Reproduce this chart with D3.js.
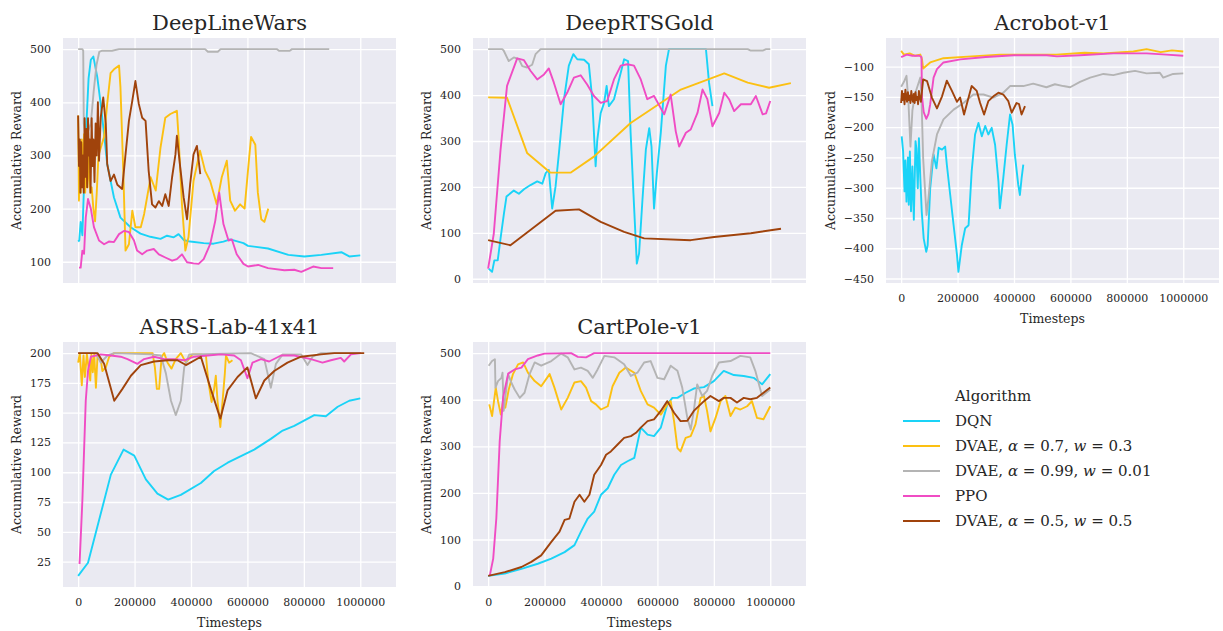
<!DOCTYPE html>
<html>
<head>
<meta charset="utf-8">
<script src="https://cdn.jsdelivr.net/npm/d3@7"></script>
<style>
  body { margin: 0; background: #fff; }
  svg { display: block; }
  text { font-family: 'DejaVu Serif', serif; fill: #262626; }
</style>
</head>
<body>
<svg></svg>
<script>
'use strict'

// series order: DQN, DVAE a=0.7, DVAE a=0.99, PPO, DVAE a=0.5
const algorithms = ['DQN', 'DVAE, α = 0.7, w = 0.3', 'DVAE, α = 0.99, w = 0.01', 'PPO', 'DVAE, α = 0.5, w = 0.5']
const colors = ['#1ad3f7', '#fcc012', '#b4b4b4', '#f04cc4', '#a0430c']

const xTicks = [0, 200000, 400000, 600000, 800000, 1000000]

// timesteps are in thousands
const dlwDqn = [[0,138],[4,140],[9,175],[15,150],[20,230],[27,334],[37,445],[45,480],[54,486],[68,447],[80,397],[92,340],[103,284],[127,221],[150,183],[186,165],[221,153],[256,147],[292,143],[315,149],[339,146],[356,152],[374,141],[397,138],[445,135],[480,134],[515,138],[539,142],[586,135],[602,130],[673,125],[745,113],[802,110],[862,113],[933,118],[961,110],[1000,112]]
const dlwDvae07 = [[0,375],[3,215],[6,300],[9,230],[13,330],[17,240],[21,340],[25,230],[29,310],[33,240],[38,300],[43,230],[48,240],[54,200],[60,176],[66,230],[72,300],[92,335],[103,397],[115,455],[127,462],[145,469],[150,428],[160,271],[168,121],[180,133],[192,196],[203,165],[222,165],[234,190],[257,259],[275,234],[292,315],[309,371],[327,378],[350,384],[356,334],[368,208],[380,121],[391,146],[409,252],[432,309],[450,271],[468,252],[491,208],[509,259],[527,290],[539,215],[556,196],[574,208],[590,200],[600,260],[613,335],[628,320],[637,230],[649,180],[660,175],[674,200]]
const dlwDvae099 = [[0,500],[15,500],[18,497],[20,360],[25,340],[35,345],[45,360],[55,420],[65,470],[75,495],[85,497],[120,497],[145,500],[450,500],[460,495],[495,495],[505,500],[705,500],[712,497],[750,497],[758,500],[890,500]]
const dlwPpo = [[3,89],[9,89],[15,121],[21,115],[27,183],[35,218],[45,200],[56,165],[74,140],[92,133],[109,138],[127,137],[145,152],[162,158],[180,156],[198,140],[209,121],[227,114],[245,121],[268,124],[286,114],[309,108],[333,102],[350,105],[368,114],[386,99],[409,97],[427,96],[445,105],[468,133],[486,177],[500,230],[515,171],[533,140],[545,142],[562,114],[586,96],[602,91],[638,94],[673,88],[731,84],[766,85],[791,81],[833,91],[862,88],[904,88]]
const dlwDvae05 = [[0,375],[3,280],[6,330],[8,230],[11,325],[14,240],[17,300],[20,230],[23,370],[26,260],[29,350],[32,240],[35,370],[38,300],[41,330],[44,230],[48,370],[51,280],[54,330],[58,250],[62,360],[66,300],[70,400],[74,290],[80,371],[89,409],[98,360],[103,284],[115,252],[127,264],[139,245],[156,237],[168,302],[180,365],[192,403],[203,440],[215,397],[227,371],[239,365],[250,271],[262,208],[274,202],[286,214],[298,205],[309,227],[321,205],[333,259],[345,302],[350,337],[362,277],[374,221],[386,180],[397,246],[409,302],[421,318],[433,265]]

const rtsDqn = [[2,22],[14,15],[22,40],[34,40],[44,88],[56,142],[65,179],[91,192],[109,185],[127,195],[150,204],[174,212],[192,207],[204,230],[215,237],[227,153],[239,201],[251,274],[269,391],[286,464],[302,489],[316,478],[340,477],[357,467],[369,391],[381,245],[387,303],[399,361],[411,383],[420,420],[428,376],[446,391],[464,434],[482,478],[496,474],[505,318],[515,186],[527,33],[535,55],[547,172],[559,281],[571,328],[579,288],[588,153],[598,230],[612,318],[630,464],[641,500],[772,500],[783,427],[795,376]]
const rtsDvae07 = [[0,395],[67,394],[138,274],[221,231],[292,231],[375,266],[505,339],[683,412],[837,447],[920,427],[996,416],[1073,426]]
const rtsDvae099 = [[0,500],[50,500],[55,497],[73,474],[91,482],[109,478],[121,463],[138,460],[156,466],[168,489],[186,500],[920,500],[931,497],[973,497],[985,500],[1000,500]]
const rtsPpo = [[0,22],[20,98],[44,281],[67,420],[103,480],[127,476],[150,453],[174,434],[198,445],[215,458],[233,427],[257,380],[280,405],[304,438],[328,443],[351,423],[375,398],[399,383],[422,387],[446,434],[470,464],[493,467],[517,464],[541,434],[564,391],[588,398],[624,358],[647,401],[665,321],[677,288],[701,318],[718,325],[742,361],[760,412],[777,391],[795,332],[819,361],[837,405],[854,391],[872,365],[896,380],[931,380],[949,398],[973,358],[985,360],[1000,387]]
const rtsDvae05 = [[0,84],[79,73],[239,148],[322,151],[399,124],[482,102],[553,88],[718,84],[801,91],[931,99],[1038,109]]

const acroDqn = [[2,-215],[7,-240],[12,-306],[15,-255],[19,-323],[24,-250],[27,-328],[31,-240],[35,-339],[40,-265],[45,-353],[51,-223],[54,-235],[59,-301],[63,-218],[68,-284],[73,-339],[80,-384],[89,-406],[94,-395],[103,-301],[115,-245],[125,-268],[133,-234],[145,-237],[156,-232],[162,-262],[174,-312],[186,-362],[198,-411],[203,-439],[215,-395],[227,-367],[239,-362],[250,-273],[262,-212],[274,-193],[286,-215],[298,-198],[309,-212],[321,-201],[333,-229],[345,-290],[350,-334],[362,-284],[374,-229],[386,-179],[395,-196],[403,-245],[415,-295],[421,-312],[427,-284],[433,-262]]
const acroDvae07 = [[0,-74],[10,-80],[30,-78],[50,-82],[68,-80],[74,-88],[78,-103],[103,-93],[150,-86],[250,-83],[350,-80],[450,-80],[550,-80],[650,-77],[717,-78],[823,-75],[870,-71],[920,-76],[960,-73],[1000,-75]]
const acroDvae099 = [[0,-133],[10,-125],[19,-115],[26,-160],[33,-232],[40,-172],[50,-144],[68,-118],[72,-150],[78,-251],[90,-345],[97,-317],[109,-256],[127,-212],[150,-187],[186,-171],[221,-160],[256,-146],[292,-146],[327,-151],[362,-143],[386,-132],[433,-132],[468,-128],[515,-134],[545,-129],[575,-132],[599,-134],[634,-125],[670,-118],[717,-112],[752,-114],[788,-110],[829,-107],[870,-111],[917,-110],[929,-118],[964,-112],[1000,-111]]
const acroPpo = [[0,-84],[20,-80],[40,-82],[65,-82],[72,-84],[74,-150],[80,-175],[89,-186],[97,-178],[103,-162],[115,-118],[127,-104],[150,-93],[210,-88],[300,-84],[400,-81],[516,-81],[552,-83],[634,-81],[752,-78],[870,-78],[940,-80],[1000,-82]]
const acroDvae05 = [[0,-160],[3,-140],[6,-155],[9,-145],[12,-162],[15,-138],[18,-150],[21,-158],[24,-142],[27,-155],[30,-148],[33,-160],[36,-140],[39,-152],[42,-158],[45,-145],[48,-160],[51,-142],[54,-155],[57,-150],[60,-162],[63,-140],[66,-150],[70,-158],[78,-121],[92,-124],[109,-151],[127,-169],[145,-149],[162,-123],[180,-140],[198,-158],[209,-151],[223,-179],[239,-151],[250,-132],[268,-140],[280,-160],[294,-179],[309,-157],[327,-149],[345,-143],[362,-146],[380,-157],[392,-176],[409,-160],[418,-162],[427,-179],[439,-165]]

const asrsDqn = [[0,13],[35,24],[116,98],[161,119],[199,114],[240,94],[281,82],[319,77],[364,81],[435,91],[482,101],[530,108],[624,119],[683,128],[725,135],[766,139],[837,148],[878,147],[920,155],[961,160],[1000,162]]
const asrsDvae07 = [[0,192],[6,200],[13,173],[19,198],[24,180],[31,199],[37,188],[43,177],[47,199],[52,184],[57,199],[63,171],[69,199],[80,195],[86,185],[98,188],[110,197],[128,200],[264,200],[272,188],[279,170],[287,170],[296,197],[305,200],[317,192],[331,187],[346,195],[364,200],[382,192],[405,199],[435,199],[453,198],[461,177],[473,159],[482,170],[488,181],[494,160],[504,138],[512,160],[520,183],[524,198],[535,192],[547,194]]
const asrsDvae099 = [[0,200],[63,200],[80,192],[104,198],[128,200],[258,199],[293,198],[311,183],[329,160],[346,148],[364,160],[376,188],[394,199],[612,200],[660,195],[683,171],[701,191],[725,199],[790,199],[813,190],[831,197],[861,200],[1002,200]]
const asrsPpo = [[5,23],[15,76],[27,160],[35,185],[45,197],[80,199],[116,198],[151,197],[175,195],[210,191],[234,195],[269,197],[305,195],[340,195],[376,194],[411,197],[459,198],[506,199],[553,198],[577,194],[600,179],[618,192],[648,195],[677,193],[719,198],[766,198],[825,195],[866,192],[896,194],[931,196],[943,193],[967,199],[1002,200]]
const asrsDvae05 = [[0,200],[69,200],[92,191],[128,160],[157,170],[187,181],[222,190],[269,193],[317,194],[352,194],[382,190],[435,197],[470,170],[504,145],[530,169],[565,180],[600,188],[630,162],[660,177],[695,185],[742,192],[790,197],[861,199],[908,200],[1014,200]]

const cartDqn = [[0,22],[59,27],[118,37],[176,48],[224,59],[271,73],[306,88],[329,117],[353,145],[376,160],[400,196],[424,210],[447,239],[471,260],[494,268],[518,275],[541,340],[565,325],[588,322],[612,340],[635,390],[653,404],[671,404],[700,415],[729,424],[765,427],[800,440],[835,462],[871,453],[906,451],[941,447],[971,433],[1000,455]]
const cartDvae07 = [[4,390],[14,365],[27,426],[35,397],[45,368],[53,397],[61,383],[73,422],[88,455],[106,476],[124,480],[141,458],[165,440],[188,429],[218,455],[235,426],[259,379],[282,404],[306,437],[329,440],[347,426],[365,397],[382,390],[400,379],[424,386],[441,429],[465,458],[488,469],[518,458],[541,419],[565,390],[588,383],[612,368],[635,390],[647,397],[659,354],[671,296],[682,289],[700,318],[718,322],[735,347],[753,404],[765,408],[776,376],[788,332],[806,361],[824,397],[841,408],[859,365],[876,383],[894,379],[918,386],[935,397],[953,361],[976,358],[1000,386]]
const cartDvae099 = [[2,473],[14,483],[24,487],[26,426],[35,440],[47,447],[51,458],[55,376],[65,426],[71,455],[82,437],[94,422],[112,404],[129,415],[147,455],[165,480],[188,473],[224,483],[259,499],[282,491],[306,465],[329,469],[353,462],[371,447],[388,465],[412,494],[447,491],[482,476],[506,451],[529,458],[553,480],[576,483],[600,447],[624,444],[647,473],[671,462],[688,426],[706,361],[718,336],[729,376],[741,433],[759,408],[776,419],[794,451],[818,480],[859,483],[894,494],[929,491],[947,462],[971,408],[1000,422]]
const cartPpo = [[6,23],[18,59],[29,145],[41,311],[53,405],[71,456],[94,465],[118,469],[141,487],[176,495],[200,499],[294,500],[318,492],[347,491],[376,500],[1000,500]]
const cartDvae05 = [[0,22],[59,30],[118,41],[153,52],[188,66],[224,95],[253,117],[271,142],[288,145],[306,181],[324,196],[341,181],[359,196],[376,239],[400,260],[418,282],[435,289],[459,304],[482,318],[506,322],[524,329],[541,340],[565,354],[588,358],[612,376],[635,397],[659,372],[682,354],[706,355],[729,376],[765,397],[788,408],[818,397],[835,404],[859,404],[882,394],[906,404],[929,401],[953,404],[976,415],[1000,426]]

const dlwTicks = [100, 200, 300, 400, 500]
const rtsTicks = [0, 100, 200, 300, 400, 500]
const acroTicks = [-450, -400, -350, -300, -250, -200, -150, -100]
const asrsTicks = [25, 50, 75, 100, 125, 150, 175, 200]
const cartTicks = [0, 100, 200, 300, 400, 500]

const panels = [
  { title: 'DeepLineWars', series: [dlwDqn, dlwDvae07, dlwDvae099, dlwPpo, dlwDvae05], ticks: dlwTicks, col: 0, row: 0, xLabels: false },
  { title: 'DeepRTSGold', series: [rtsDqn, rtsDvae07, rtsDvae099, rtsPpo, rtsDvae05], ticks: rtsTicks, col: 1, row: 0, xLabels: false },
  { title: 'Acrobot-v1', series: [acroDqn, acroDvae07, acroDvae099, acroPpo, acroDvae05], ticks: acroTicks, col: 2, row: 0, xLabels: true },
  { title: 'ASRS-Lab-41x41', series: [asrsDqn, asrsDvae07, asrsDvae099, asrsPpo, asrsDvae05], ticks: asrsTicks, col: 0, row: 1, xLabels: true },
  { title: 'CartPole-v1', series: [cartDqn, cartDvae07, cartDvae099, cartPpo, cartDvae05], ticks: cartTicks, col: 1, row: 1, xLabels: true }
]

const width = 1223,
  height = 631
const plotW = 333,
  plotH = 245
const colLeft = [63, 473, 886]
const rowTop = [38, 342]

const svg = d3.select('svg').attr('width', width).attr('height', height)

// shared x like a facet grid, 5% margins like matplotlib
const allX = panels.flatMap(p => p.series.flatMap(s => s.map(d => d[0] * 1000)))
const xExt = d3.extent(allX)
const xPad = (xExt[1] - xExt[0]) * 0.05
const xScale = d3
  .scaleLinear()
  .domain([xExt[0] - xPad, xExt[1] + xPad])
  .range([0, plotW])

panels.forEach((p, i) => {
  const g = svg
    .append('g')
    .attr('transform', 'translate(' + colLeft[p.col] + ',' + rowTop[p.row] + ')')

  const yExt = d3.extent(p.series.flatMap(s => s.map(d => d[1])))
  const yPad = (yExt[1] - yExt[0]) * 0.05
  const yScale = d3
    .scaleLinear()
    .domain([yExt[0] - yPad, yExt[1] + yPad])
    .range([plotH, 0])

  g.append('rect')
    .attr('width', plotW)
    .attr('height', plotH)
    .attr('fill', '#eaeaf2')

  g.append('clipPath')
    .attr('id', 'clip' + i)
    .append('rect')
    .attr('width', plotW)
    .attr('height', plotH)

  const yAxis = g
    .append('g')
    .call(
      d3
        .axisLeft(yScale)
        .tickValues(p.ticks)
        .tickSize(-plotW)
        .tickPadding(12)
        .tickFormat(d3.format('d'))
    )

  const xAxis = g
    .append('g')
    .attr('transform', 'translate(0,' + plotH + ')')
    .call(
      d3
        .axisBottom(xScale)
        .tickValues(xTicks)
        .tickSize(-plotH)
        .tickPadding(11)
        .tickFormat(d3.format('d'))
    )

  ;[yAxis, xAxis].forEach(a => {
    a.select('.domain').remove()
    a.selectAll('line').attr('stroke', '#fff').attr('stroke-width', 1.3)
    a.selectAll('text').attr('font-size', 11).attr('fill', '#262626')
  })
  if (!p.xLabels) xAxis.selectAll('text').remove()

  const line = d3
    .line()
    .x(d => xScale(d[0] * 1000))
    .y(d => yScale(d[1]))

  g.append('g')
    .attr('clip-path', 'url(#clip' + i + ')')
    .selectAll('path')
    .data(p.series)
    .enter()
    .append('path')
    .attr('d', line)
    .attr('fill', 'none')
    .attr('stroke', (d, j) => colors[j])
    .attr('stroke-width', 1.9)
    .attr('stroke-linejoin', 'round')

  g.append('text')
    .attr('x', plotW / 2)
    .attr('y', -8)
    .attr('text-anchor', 'middle')
    .attr('font-size', 21)
    .text(p.title)

  const bb = yAxis.node().getBBox()
  g.append('text')
    .attr('transform', 'translate(' + (bb.x - 9) + ',' + plotH / 2 + ') rotate(-90)')
    .attr('text-anchor', 'middle')
    .attr('font-size', 12.5)
    .text('Accumulative Reward')

  if (p.xLabels) {
    g.append('text')
      .attr('x', plotW / 2)
      .attr('y', plotH + 40)
      .attr('text-anchor', 'middle')
      .attr('font-size', 12.5)
      .text('Timesteps')
  }
})

// legend
const legend = svg.append('g').attr('transform', 'translate(903,401)')

legend
  .append('text')
  .attr('x', 52)
  .attr('y', 0)
  .attr('font-size', 15)
  .text('Algorithm')

const items = legend
  .selectAll('.item')
  .data(algorithms)
  .enter()
  .append('g')
  .attr('class', 'item')
  .attr('transform', (d, i) => 'translate(0,' + (i + 1) * 25 + ')')

items
  .append('line')
  .attr('x1', 0)
  .attr('x2', 37)
  .attr('y1', -5)
  .attr('y2', -5)
  .attr('stroke', (d, i) => colors[i])
  .attr('stroke-width', 2)

items
  .append('text')
  .attr('x', 52)
  .attr('font-size', 15)
  .each(function(d) {
    const t = d3.select(this)
    d.split(/([αw])/).forEach(part => {
      if (!part) return
      t.append('tspan')
        .attr('font-style', part === 'α' || part === 'w' ? 'italic' : null)
        .text(part)
    })
  })
</script>
</body>
</html>
